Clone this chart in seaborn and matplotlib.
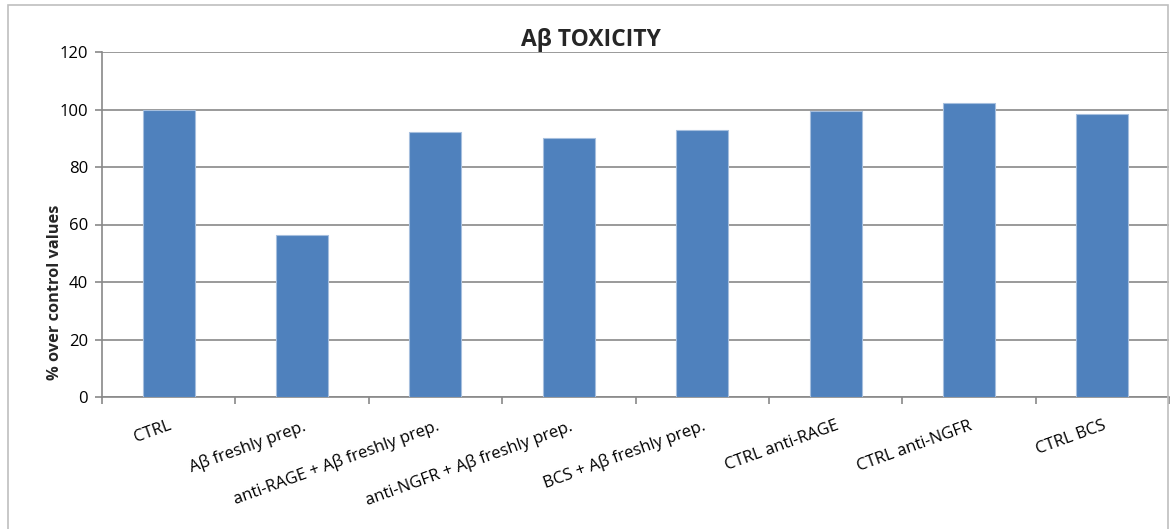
import matplotlib
matplotlib.use("Agg")
import matplotlib.pyplot as plt
import seaborn as sns
import pandas as pd
import numpy as np
from matplotlib.patches import Rectangle

categories = ["CTRL", "Aβ freshly prep.", "anti-RAGE + Aβ freshly prep.",
              "anti-NGFR + Aβ freshly prep.", "BCS + Aβ freshly prep.",
              "CTRL anti-RAGE", "CTRL anti-NGFR", "CTRL BCS"]
values = [100.0, 56.3, 92.1, 90.0, 92.7, 99.6, 102.4, 98.3]
yticks = [0, 20, 40, 60, 80, 100, 120]

sns.set_theme(style="white")
plt.rcParams['font.family'] = ['Open Sans', 'DejaVu Sans']

df = pd.DataFrame({"cat": categories, "val": values})

W, H = 1173, 529
fig = plt.figure(figsize=(W/100, H/100), dpi=100)
L, R, T, B = 102, 1169, 52, 397
ax = fig.add_axes([L/W, 1-B/H, (R-L)/W, (B-T)/H])

sns.barplot(data=df, x="cat", y="val", ax=ax, color="#4F81BD", width=0.39,
            saturation=1, edgecolor="#A6BFDE", linewidth=0.8, zorder=3)

ax.set_ylim(0, 120)
ax.set_xlim(-0.5, len(categories) - 0.5)
ax.set_yticks(yticks)
ax.set_yticklabels([str(t) for t in yticks], fontsize=12, color="black")
ax.yaxis.grid(True, color="#898989", linewidth=1.2, zorder=0)
ax.set_axisbelow(True)

ax.set_xticks(range(len(categories)))
ax.set_xticklabels(categories, rotation=20, ha="right", rotation_mode="anchor",
                   fontsize=12, color="black")
ax.set_xticks(np.arange(-0.5, len(categories), 1.0), minor=True)
ax.tick_params(axis="x", which="major", length=0, pad=15)
ax.tick_params(axis="x", which="minor", length=5, color="#898989", width=1.2,
               direction="out", bottom=True)
ax.tick_params(axis="y", which="major", length=5, color="#898989", width=1.2,
               direction="out", left=True, pad=5)

for s in ["top", "right"]:
    ax.spines[s].set_visible(False)
for s in ["left", "bottom"]:
    ax.spines[s].set_color("#898989")
    ax.spines[s].set_linewidth(1.2)

ax.set_xlabel("")
ax.set_ylabel("")
fig.text(55/W, 1-292/H, "% over control values", ha="center", va="center",
         rotation=90, fontsize=11.8, fontweight="bold")
fig.text(591/W, 1-40/H, "Aβ TOXICITY", ha="center", va="center",
         fontsize=16.5, fontweight="bold")

fig.patches.append(Rectangle((8/W, -0.05), (1168-8)/W, 1-5/H+0.05,
                             transform=fig.transFigure, fill=False,
                             edgecolor="#BFBFBF", linewidth=1.2))

fig.savefig("out.png", dpi=100)
